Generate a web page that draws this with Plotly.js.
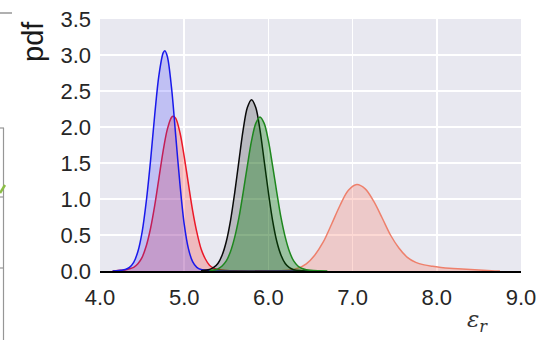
<!DOCTYPE html>
<html>
<head>
<meta charset="utf-8">
<script src="https://cdn.plot.ly/plotly-3.0.1.min.js"></script>
<style>
  html, body { margin: 0; padding: 0; background: #ffffff; }
  #chart { width: 547px; height: 340px; }
</style>
</head>
<body>
<div id="chart"></div>
<script>
// Estimated posterior densities of the relative permittivity for five samples
const blueEps = [4.15, 4.2, 4.25, 4.3, 4.35, 4.4, 4.45, 4.5, 4.55, 4.6, 4.65, 4.7, 4.75, 4.77, 4.8, 4.85, 4.9, 4.95, 5.0, 5.05, 5.1, 5.15, 5.2, 5.3, 5.4, 6.5];
const bluePdf = [0, 0.005, 0.01, 0.02, 0.05, 0.12, 0.27, 0.54, 0.97, 1.53, 2.17, 2.72, 3.03, 3.06, 2.98, 2.54, 1.87, 1.2, 0.65, 0.31, 0.13, 0.05, 0.02, 0.005, 0, 0];

const redEps = [4.15, 4.25, 4.3, 4.35, 4.4, 4.45, 4.5, 4.55, 4.6, 4.65, 4.7, 4.75, 4.8, 4.85, 4.87, 4.9, 4.95, 5.0, 5.05, 5.1, 5.15, 5.2, 5.25, 5.3, 5.35, 5.4, 5.5, 5.6, 6.5];
const redPdf = [0, 0.01, 0.015, 0.03, 0.05, 0.1, 0.19, 0.35, 0.59, 0.91, 1.29, 1.67, 1.97, 2.135, 2.15, 2.12, 1.92, 1.59, 1.21, 0.84, 0.54, 0.31, 0.17, 0.08, 0.04, 0.02, 0.008, 0.004, 0];

const blackEps = [5.2, 5.3, 5.35, 5.4, 5.45, 5.5, 5.55, 5.6, 5.65, 5.7, 5.75, 5.8, 5.85, 5.9, 5.95, 6.0, 6.05, 6.1, 6.15, 6.2, 6.25, 6.3, 6.4, 6.5];
const blackPdf = [0.005, 0.02, 0.05, 0.105, 0.22, 0.41, 0.70, 1.09, 1.53, 1.96, 2.27, 2.38, 2.27, 1.96, 1.53, 1.09, 0.70, 0.41, 0.22, 0.105, 0.046, 0.018, 0.005, 0];

const greenEps = [5.3, 5.35, 5.4, 5.45, 5.5, 5.55, 5.6, 5.65, 5.7, 5.75, 5.8, 5.85, 5.9, 5.95, 6.0, 6.05, 6.1, 6.15, 6.2, 6.25, 6.3, 6.35, 6.4, 6.45, 6.5, 6.6, 6.7];
const greenPdf = [0.005, 0.013, 0.03, 0.07, 0.14, 0.27, 0.47, 0.74, 1.09, 1.46, 1.81, 2.05, 2.14, 2.05, 1.81, 1.46, 1.09, 0.74, 0.47, 0.27, 0.14, 0.07, 0.035, 0.018, 0.009, 0.003, 0];

const salmonEps = [6.1, 6.25, 6.35, 6.45, 6.55, 6.65, 6.75, 6.85, 6.95, 7.05, 7.15, 7.25, 7.35, 7.45, 7.55, 7.65, 7.75, 7.85, 7.95, 8.05, 8.15, 8.25, 8.35, 8.45, 8.55, 8.65, 8.75];
const salmonPdf = [0, 0.015, 0.04, 0.1, 0.22, 0.4, 0.65, 0.91, 1.12, 1.2, 1.14, 0.97, 0.74, 0.5, 0.32, 0.19, 0.12, 0.085, 0.065, 0.05, 0.038, 0.03, 0.024, 0.018, 0.012, 0.005, 0];

// Axis ticks
const xTickVals = [4, 5, 6, 7, 8, 9];
const xTickText = ['4.0', '5.0', '6.0', '7.0', '8.0', '9.0'];
const yTickVals = [0, 0.5, 1, 1.5, 2, 2.5, 3, 3.5];
const yTickText = ['0.0', '0.5', '1.0', '1.5', '2.0', '2.5', '3.0', '3.5'];

function density(x, y, line, fill) {
  return {
    x: x, y: y, type: 'scatter', mode: 'lines',
    line: { color: line, width: 1.5, shape: 'spline', smoothing: 0.9 },
    fill: 'tozeroy', fillcolor: fill,
    hoverinfo: 'skip', showlegend: false
  };
}

const traces = [
  density(salmonEps, salmonPdf, 'rgb(238,128,108)', 'rgba(250,128,114,0.30)'),
  density(redEps, redPdf, 'rgb(235,25,40)', 'rgba(255,70,60,0.28)'),
  density(blueEps, bluePdf, 'rgb(25,25,235)', 'rgba(50,50,255,0.22)'),
  density(blackEps, blackPdf, 'rgb(10,10,10)', 'rgba(0,0,0,0.20)'),
  density(greenEps, greenPdf, 'rgb(30,135,30)', 'rgba(0,120,0,0.33)')
];

// Helpers converting page pixels to paper coordinates for the
// edge of the neighbouring panel on the left.
const L = 100, T = 19, W = 421, H = 252;
const px = p => (p - L) / W;
const py = p => (T + H - p) / H;
const frame = 'rgb(150,150,150)';

const shapes = [
  { type: 'line', xref: 'paper', yref: 'paper', x0: px(0), x1: px(12), y0: py(13), y1: py(13), line: { color: frame, width: 1.5 } },
  { type: 'line', xref: 'paper', yref: 'paper', x0: px(3.5), x1: px(3.5), y0: py(128), y1: py(340), line: { color: frame, width: 1.2 } },
  { type: 'line', xref: 'paper', yref: 'paper', x0: px(0), x1: px(4), y0: py(128), y1: py(128), line: { color: frame, width: 1.2 } },
  { type: 'line', xref: 'paper', yref: 'paper', x0: px(0), x1: px(4), y0: py(197), y1: py(197), line: { color: frame, width: 1.2 } },
  { type: 'line', xref: 'paper', yref: 'paper', x0: px(0), x1: px(4), y0: py(268), y1: py(268), line: { color: frame, width: 1.2 } },
  { type: 'line', xref: 'paper', yref: 'paper', x0: px(0), x1: px(5), y0: py(193), y1: py(185), line: { color: 'rgb(140,190,70)', width: 2.5 } }
];

const tickFont = { family: 'Liberation Sans, Arial, sans-serif', size: 22, color: '#262626' };

const layout = {
  width: 547, height: 340,
  margin: { l: L, r: 547 - L - W, t: T, b: 340 - T - H, pad: 0 },
  paper_bgcolor: '#ffffff',
  plot_bgcolor: '#e8e8f0',
  showlegend: false,
  xaxis: {
    range: [4, 9], tickvals: xTickVals, ticktext: xTickText,
    showgrid: true, gridcolor: '#ffffff', gridwidth: 1.5,
    zeroline: false, showline: true, linecolor: '#000000', linewidth: 1.5,
    ticks: '', tickfont: tickFont, ticklabelstandoff: 6,
    layer: 'below traces', fixedrange: true
  },
  yaxis: {
    range: [0, 3.5], tickvals: yTickVals, ticktext: yTickText,
    showgrid: true, gridcolor: '#ffffff', gridwidth: 1.5,
    zeroline: false, showline: false,
    ticks: '', tickfont: tickFont, ticklabelstandoff: 8,
    fixedrange: true
  },
  shapes: shapes,
  annotations: [
    { text: 'pdf', xref: 'paper', yref: 'paper', x: px(33), y: py(42), showarrow: false,
      textangle: -90, xanchor: 'center', yanchor: 'middle',
      font: { family: 'Liberation Sans, Arial, sans-serif', size: 29, color: '#1a1a1a' } },
    { text: '<i>ε</i><sub><i>r</i></sub>', xref: 'paper', yref: 'paper', x: px(477), y: py(321), showarrow: false,
      xanchor: 'center', yanchor: 'middle',
      font: { family: 'DejaVu Serif, serif', size: 23, color: '#333333' } }
  ]
};

Plotly.newPlot('chart', traces, layout, { staticPlot: true, displayModeBar: false });
</script>
</body>
</html>
